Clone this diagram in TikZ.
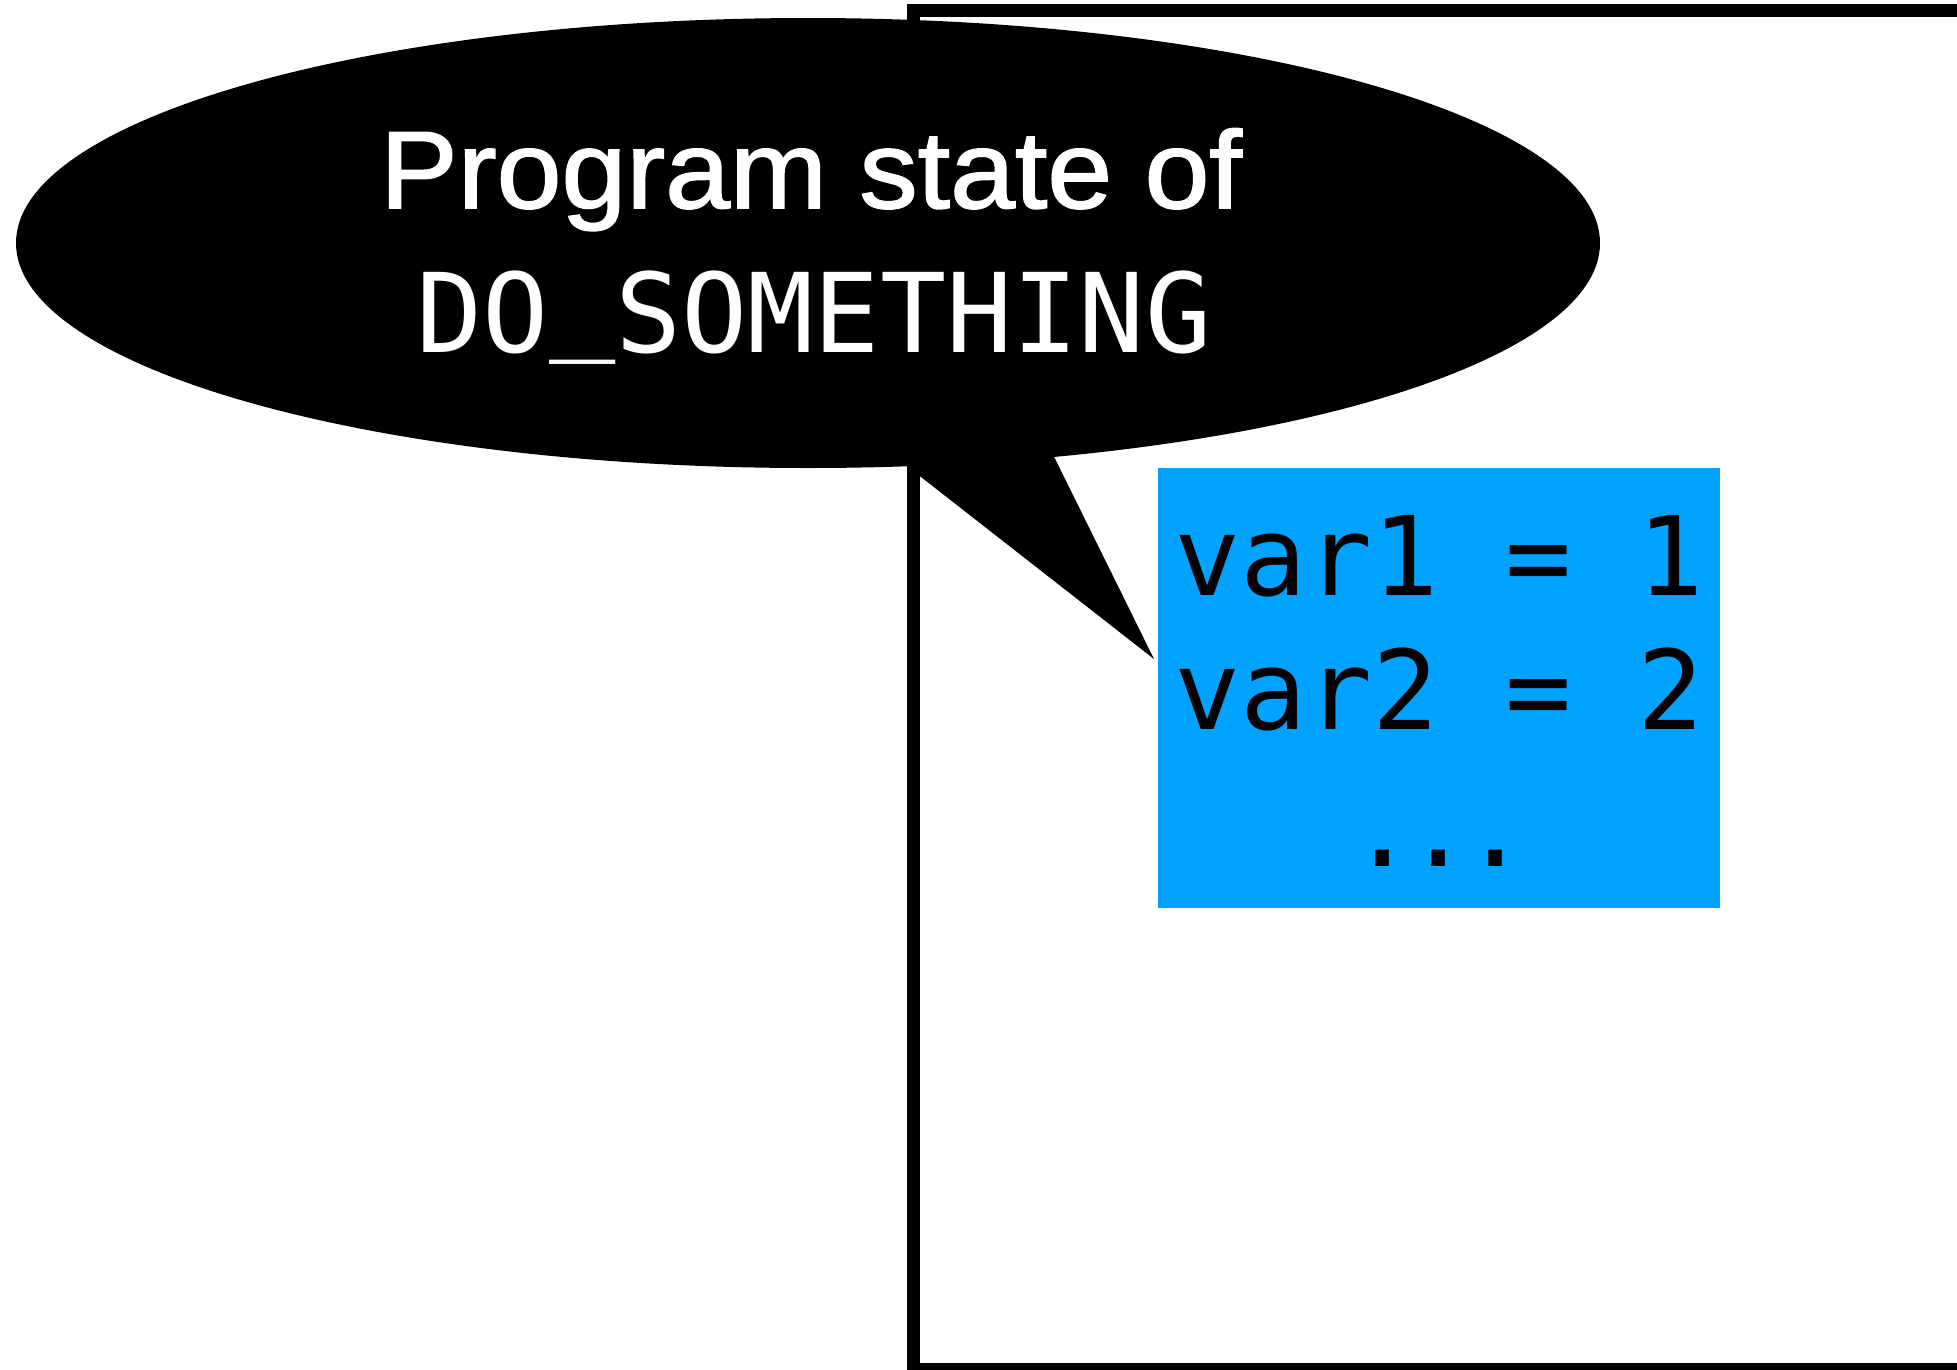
\documentclass[tikz,border=0pt]{standalone}
\usepackage{fontspec}
\usetikzlibrary{shapes.geometric}
\newfontfamily\codefont{DejaVu Sans Mono}
\newfontfamily\headfont[FakeStretch=1.06,FakeBold=1.5]{Liberation Sans}
\definecolor{stateblue}{RGB}{0,162,255}
\begin{document}
\begin{tikzpicture}[x=1pt,y=-1pt,
  frame/.style={draw=black,line width=13pt},
  bubble/.style={ellipse,fill=black,draw=none,inner sep=0pt,
    minimum width=1584pt,minimum height=450pt},
  statebox/.style={rectangle,fill=stateblue,draw=none,inner sep=0pt,
    minimum width=562pt,minimum height=440pt},
  headtext/.style={anchor=base,text=white,inner sep=0pt,
    font=\headfont\fontsize{110}{132}\selectfont},
  codetext/.style={anchor=base,inner sep=0pt,
    font=\codefont\fontsize{110}{132}\selectfont},
]
\useasboundingbox (0,0) rectangle (1957,1369);
\clip (0,0) rectangle (1957,1369);

% the enclosing frame, running off the right and bottom edges
\coordinate (frameNW) at (913.5,10);
\coordinate (frameSE) at (2020,1369.5);
\draw[frame] (frameNW) rectangle (frameSE);

% speech bubble with its pointer
\node[bubble] (bubble) at (808,243) {};
\coordinate (tip) at (1154,659);
\fill[black] (bubble.center) -- (bubble.-66.5) -- (tip) -- (bubble.-41.1) -- cycle;

\node[headtext] (title) at (811,208) {Program state of};
\node[codetext,text=white] (fname) at (814,352) {DO\raisebox{14pt}{\_}SOMETHING};

% the variables box
\node[statebox] (state) at (1439,688) {};
\node[codetext] (var1) at (1439,595) {var1 = 1};
\node[codetext] (var2) at (1439,729) {var2 = 2};
\node[codetext] (more) at (1439,866) {.\kern-10pt.\kern-10pt.};
\end{tikzpicture}
\end{document}
